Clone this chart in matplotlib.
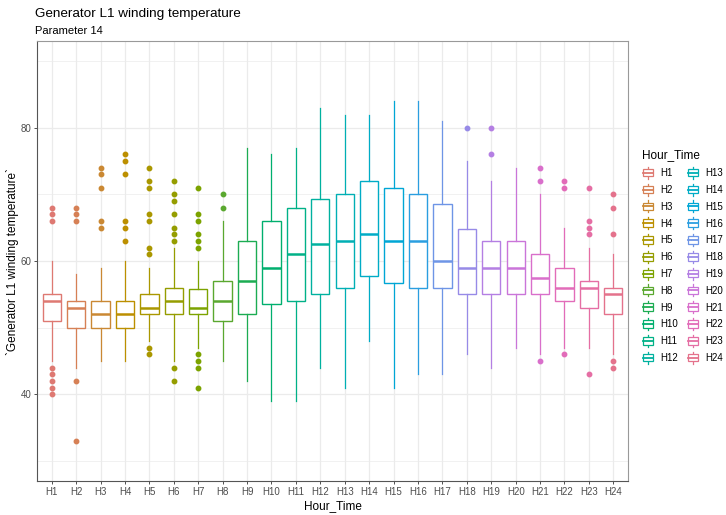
import numpy as np
import matplotlib
matplotlib.use("Agg")
import matplotlib.pyplot as plt
from matplotlib.patches import Patch, Rectangle
from matplotlib.lines import Line2D
from matplotlib.legend_handler import HandlerBase

plt.rcParams['font.family'] = ['Liberation Sans', 'DejaVu Sans']

hours = ["H%d" % i for i in range(1, 25)]
q1 = [51, 50, 50, 50, 52, 52, 52, 51, 52, 53.5, 54, 55, 56, 57.75, 56.75, 56, 56, 55, 55, 55, 55, 54, 53, 52]
med = [54, 53, 52, 52, 53, 54, 53, 54, 57, 59, 61, 62.5, 63, 64, 63, 63, 60, 59, 59, 59, 57.5, 56, 56, 55]
q3 = [55, 54, 54, 54, 55, 56, 55.75, 57, 63, 66, 68, 69.25, 70, 72, 71, 70, 68.5, 64.75, 63, 63, 61, 59, 57, 56]
wlo = [45, 44, 45, 45, 48, 45, 47, 45, 42, 39, 39, 44, 41, 48, 41, 43, 43, 46, 44, 47, 46, 47, 47, 46]
whi = [60, 58, 59, 60, 59, 62, 60, 66, 77, 76, 77, 83, 82, 82, 84, 84, 81, 75, 72, 74, 70, 65, 62, 61]
outliers = [
    [68, 67, 66, 44, 43, 42, 41, 40],
    [68, 67, 66, 42, 33],
    [74, 73, 71, 66, 65],
    [76, 75, 73, 66, 65, 63],
    [74, 72, 71, 67, 66, 62, 61, 47, 46],
    [72, 70, 69, 67, 65, 64, 63, 44, 42],
    [71, 67, 66, 64, 63, 62, 46, 45, 44, 41],
    [70, 68],
    [], [], [], [], [], [], [], [], [],
    [80],
    [80, 76],
    [],
    [74, 72, 45],
    [72, 71, 46],
    [71, 66, 65, 64, 43],
    [70, 68, 64, 45, 44],
]


def hcl(h, c=100, l=65):
    # polar LUV -> sRGB, like R's hcl()
    h = np.deg2rad(h)
    u, v = c * np.cos(h), c * np.sin(h)
    xn, yn, zn = 95.047, 100.0, 108.883
    un = 4 * xn / (xn + 15 * yn + 3 * zn)
    vn = 9 * yn / (xn + 15 * yn + 3 * zn)
    Y = yn * ((l + 16) / 116) ** 3
    up = u / (13 * l) + un
    vp = v / (13 * l) + vn
    X = 9 * Y * up / (4 * vp)
    Z = -X / 3 - 5 * Y + 3 * Y / vp
    xyz = np.array([X, Y, Z]) / 100
    m = np.array([[3.240479, -1.537150, -0.498535],
                  [-0.969256, 1.875992, 0.041556],
                  [0.055648, -0.204043, 1.057311]])
    rgb = m @ xyz
    rgb = np.where(rgb <= 0.0031308, 12.92 * rgb, 1.055 * np.abs(rgb) ** (1 / 2.4) - 0.055)
    return tuple(np.clip(rgb, 0, 1))


hues = np.linspace(15, 375, 25)[:24]
colors = [hcl(h, c=76, l=62) for h in hues]

stats = []
for i in range(24):
    stats.append(dict(med=med[i], q1=q1[i], q3=q3[i], whislo=wlo[i], whishi=whi[i],
                      fliers=outliers[i], label=hours[i]))

fig = plt.figure(figsize=(7.26, 5.15), dpi=100)
ax = fig.add_axes([0.051, 0.066, 0.814, 0.854])

pos = np.arange(1, 25)
bp = ax.bxp(stats, positions=pos, widths=0.75, patch_artist=True, showcaps=False,
            manage_ticks=False)
for i, c in enumerate(colors):
    bp['boxes'][i].set(facecolor='white', edgecolor=c, linewidth=1.0)
    bp['medians'][i].set(color=c, linewidth=1.8)
    for w in bp['whiskers'][2 * i:2 * i + 2]:
        w.set(color=c, linewidth=0.9)
    bp['fliers'][i].set(marker='o', markerfacecolor=c, markeredgecolor=c,
                        markersize=3.2, linestyle='none')

ax.set_xlim(0.4, 24.6)
ax.set_ylim(27, 93)
ax.set_xticks(pos)
ax.set_xticklabels(hours)
ax.set_yticks([40, 60, 80])
ax.set_yticks([30, 50, 70, 90], minor=True)
ax.tick_params(axis='both', which='major', labelsize=7, colors='#333333', length=2.5,
               width=0.6, labelcolor='#4d4d4d', pad=1.5)
ax.tick_params(axis='y', which='minor', length=0)
ax.grid(True, which='major', color='#ebebeb', linewidth=0.9)
ax.grid(True, which='minor', axis='y', color='#ebebeb', linewidth=0.5)
ax.set_axisbelow(True)
for s in ax.spines.values():
    s.set_color('#999999')
    s.set_linewidth(0.8)
ax.spines['left'].set_color('#555555')
ax.spines['bottom'].set_color('#555555')

ax.set_xlabel("Hour_Time", fontsize=8.5)
ax.set_ylabel("`Generator L1 winding temperature`", fontsize=8.5)
ax.xaxis.set_label_coords(0.5, -0.057)
ax.yaxis.set_label_coords(-0.042, 0.5)
ax.xaxis.label.set_va('center')
ax.yaxis.label.set_va('center')

fig.text(0.048, 0.962, "Generator L1 winding temperature", fontsize=9.7, va='bottom')
fig.text(0.048, 0.930, "Parameter 14", fontsize=8, va='bottom')


class BoxHandler(HandlerBase):
    def create_artists(self, legend, orig_handle, xdescent, ydescent, width, height,
                       fontsize, trans):
        c = orig_handle.get_edgecolor()
        x0 = -xdescent
        y0 = -ydescent
        xm = x0 + width / 2
        arts = [
            Line2D([xm, xm], [y0 - 0.3 * height, y0 + 1.3 * height], color=c, linewidth=0.9),
            Rectangle((x0 + 0.1 * width, y0), 0.8 * width, height, facecolor='white',
                      edgecolor=c, linewidth=0.9),
            Line2D([x0 + 0.1 * width, x0 + 0.9 * width], [y0 + height / 2] * 2, color=c,
                   linewidth=1.3),
        ]
        for a in arts:
            a.set_transform(trans)
        return arts


handles = [Patch(edgecolor=c, facecolor='white') for c in colors]
leg = fig.legend(handles, hours, loc='upper left', bbox_to_anchor=(0.872, 0.727),
                 ncol=2, frameon=False, title="Hour_Time", fontsize=7,
                 title_fontsize=8.5, handler_map={Patch: BoxHandler()},
                 handlelength=1.3, handleheight=0.8, labelspacing=0.7,
                 columnspacing=0.9, handletextpad=0.6, alignment='left')

fig.savefig("out.png", dpi=100)
